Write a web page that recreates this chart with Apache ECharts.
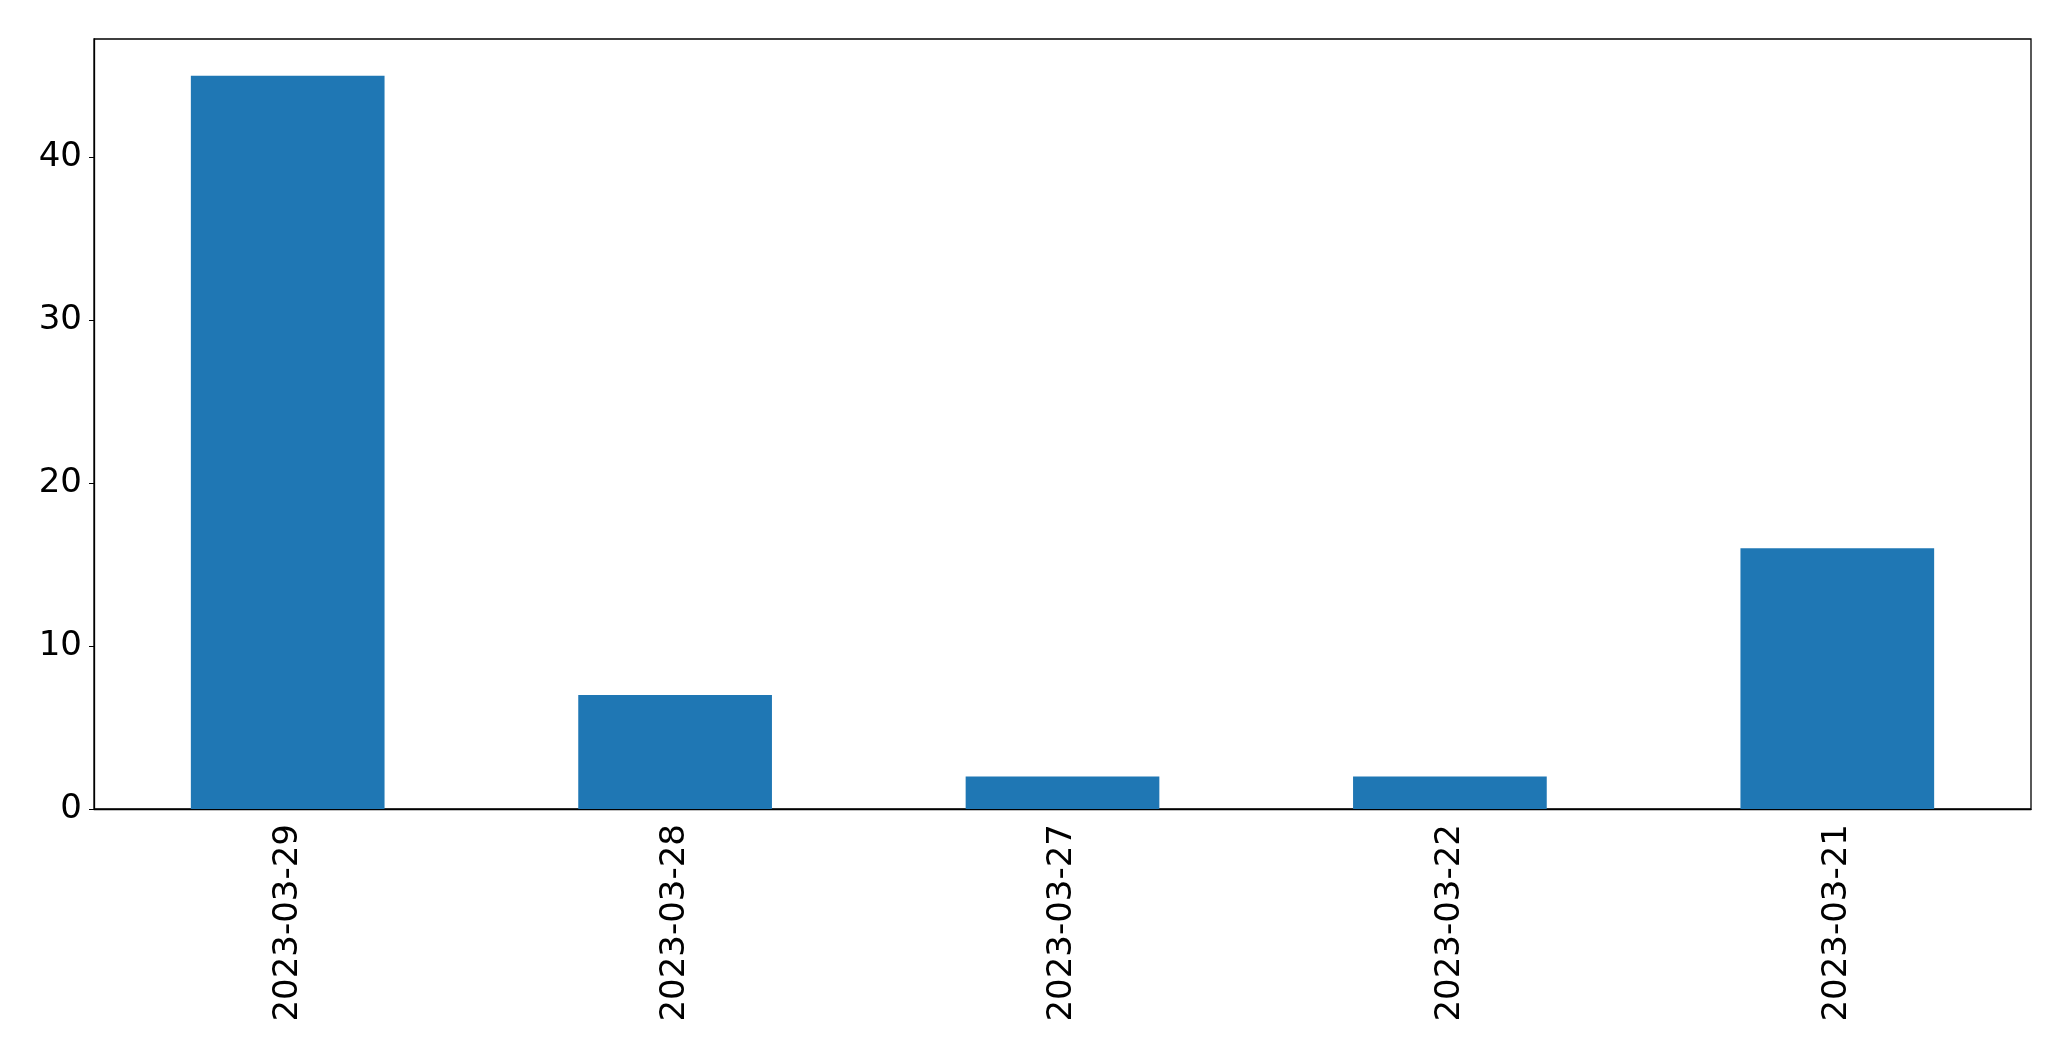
<!DOCTYPE html>
<html>
<head>
<meta charset="utf-8">
<script src="https://cdn.jsdelivr.net/npm/echarts@6/dist/echarts.min.js"></script>
<style>
  html, body { margin: 0; padding: 0; background: #fff; }
  #chart { width: 2071px; height: 1061px; }
</style>
</head>
<body>
<div id="chart"></div>
<script>
// data
const dates = ['2023-03-29', '2023-03-28', '2023-03-27', '2023-03-22', '2023-03-21']
const counts = [45, 7, 2, 2, 16]
const yTicks = [0, 10, 20, 30, 40]

const font = 'DejaVu Sans'
const chart = echarts.init(document.getElementById('chart'))
chart.setOption({
  animation: false,
  grid: {
    left: 94, right: 40, top: 39, bottom: 252,
    show: true, borderColor: '#000', borderWidth: 1.3
  },
  xAxis: {
    type: 'category',
    data: dates,
    axisLine: { lineStyle: { color: '#000', width: 1.3 } },
    axisTick: { alignWithLabel: true, length: 5, lineStyle: { color: '#000' } },
    axisLabel: {
      rotate: 90, margin: 15, color: '#000',
      fontFamily: font, fontSize: 34
    },
    splitLine: { show: false }
  },
  yAxis: {
    type: 'value',
    min: 0, max: 47.25,
    axisLine: { show: true, lineStyle: { color: '#000', width: 1.3 } },
    axisTick: { show: true, length: 5, customValues: yTicks, lineStyle: { color: '#000' } },
    axisLabel: {
      customValues: yTicks, margin: 12, color: '#000',
      fontFamily: font, fontSize: 34
    },
    splitLine: { show: false }
  },
  series: [{
    type: 'bar',
    data: counts,
    barWidth: '50%',
    itemStyle: { color: '#1f77b4' }
  }]
})
</script>
</body>
</html>
